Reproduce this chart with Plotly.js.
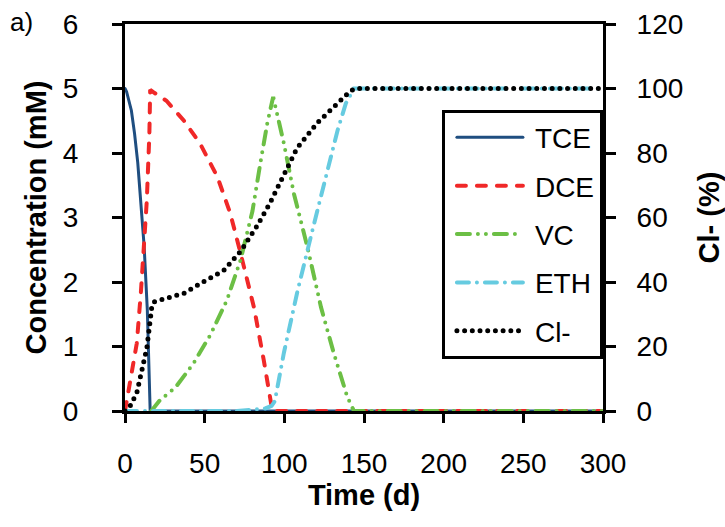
<!DOCTYPE html>
<html>
<head>
<meta charset="utf-8">
<script src="https://cdn.plot.ly/plotly-3.0.1.min.js"></script>
<style>
  html, body { margin: 0; padding: 0; background: #fff; }
  #chart { width: 725px; height: 527px; }
  .js-line { stroke-linecap: round !important; }
</style>
</head>
<body>
<div id="chart"></div>
<script>
// ---- data ----
const tceDays = [0, 1, 4, 6, 8, 10, 12, 14, 15.8, 300];
const tceConc = [5, 4.95, 4.66, 4.3, 3.85, 3.25, 2.56, 1.57, 0, 0];

const dceDays = [0, 1, 4, 7.4, 10, 11.6, 13.7, 15.3, 15.8, 18, 26, 37, 47, 58, 66, 72.5, 81, 87, 92.5, 300];
const dceConc = [0, 0.15, 0.55, 1.05, 1.85, 2.39, 3.27, 4.3, 4.98, 4.94, 4.81, 4.5, 4.15, 3.63, 3.07, 2.45, 1.6, 0.8, 0, 0];

const vcDays = [16.5, 22, 31.5, 43, 53.6, 64, 72.5, 80, 85, 89.3, 93, 99.7, 106, 114.5, 123, 131, 139.5, 143.7, 300];
const vcConc = [0, 0.17, 0.36, 0.74, 1.18, 1.72, 2.34, 3.1, 3.85, 4.46, 4.87, 4.15, 3.37, 2.54, 1.61, 0.9, 0.22, 0, 0];

const ethDays = [0, 70, 80, 88, 92, 94, 99.7, 108, 116.6, 125, 133.4, 138.6, 143.7, 300];
const ethConc = [0, 0, 0.02, 0.04, 0.08, 0.15, 0.9, 1.83, 2.7, 3.53, 4.35, 4.77, 5, 5];

const clDays = [0, 3, 7.4, 10.5, 13.7, 15.3, 16.8, 18, 27, 37, 49, 62, 72.5, 83, 91, 98, 108, 121, 131, 137, 141, 144, 300];
const clPct  = [0, 1.3, 5.6, 12.6, 19.5, 26, 32.3, 33.8, 35.2, 36.5, 40, 43.6, 49.5, 57.5, 64.5, 71.5, 81.5, 89.5, 94.5, 97.5, 99, 100, 100];

const seriesNames = ['TCE', 'DCE', 'VC', 'ETH', 'Cl-'];
const xTicks = [0, 50, 100, 150, 200, 250, 300];
const yTicks = [0, 1, 2, 3, 4, 5, 6];
const y2Ticks = [0, 20, 40, 60, 80, 100, 120];

// ---- styling ----
const FONT = '"Liberation Sans", Arial, sans-serif';
const tickFont = { family: FONT, size: 28, color: '#000' };
const titleFont = { family: FONT, size: 29, color: '#000', weight: 'bold' };

const traces = [
  { x: tceDays, y: tceConc, name: seriesNames[0], legendgroup: 'g1',
    line: { color: '#1f4e80', width: 3, dash: 'solid' } },
  { x: dceDays, y: dceConc, name: seriesNames[1], legendgroup: 'g2',
    line: { color: '#f02828', width: 4, dash: '9px,11px' } },
  { x: vcDays, y: vcConc, name: seriesNames[2], legendgroup: 'g3',
    line: { color: '#6cbf45', width: 4, dash: '13px,8px,0px,8px,0px,8px' } },
  { x: ethDays, y: ethConc, name: seriesNames[3], legendgroup: 'g4',
    line: { color: '#66cbe0', width: 4, dash: '12px,8px,0px,8px' } },
  { x: clDays, y: clPct, name: seriesNames[4], legendgroup: 'g5', yaxis: 'y2',
    line: { color: '#000000', width: 5, dash: '0px,7.7px' } }
].map(t => Object.assign({ type: 'scatter', mode: 'lines', hoverinfo: 'skip' }, t));

const layout = {
  width: 725, height: 527,
  margin: { l: 125, r: 122, t: 24, b: 116, pad: 0 },
  paper_bgcolor: '#fff', plot_bgcolor: '#fff',
  showlegend: true,
  xaxis: {
    range: [0, 300], tickvals: xTicks, ticktext: xTicks.map(String),
    showgrid: false, zeroline: false,
    showline: true, linecolor: '#000', linewidth: 3, mirror: true,
    ticks: 'outside', ticklen: 9, tickwidth: 3, tickcolor: '#000',
    tickfont: tickFont, ticklabelstandoff: 16,
    title: { text: 'Time (d)', font: titleFont, standoff: 6 }
  },
  yaxis: {
    range: [0, 6], tickvals: yTicks, ticktext: yTicks.map(String),
    showgrid: false, zeroline: false,
    showline: true, linecolor: '#000', linewidth: 3,
    ticks: 'outside', ticklen: 10, tickwidth: 3, tickcolor: '#000',
    tickfont: tickFont, ticklabelstandoff: 28,
    title: { text: 'Concentration (mM)', font: titleFont, standoff: 8 }
  },
  yaxis2: {
    overlaying: 'y', side: 'right',
    range: [0, 120], tickvals: y2Ticks, ticktext: y2Ticks.map(String),
    showgrid: false, zeroline: false,
    showline: true, linecolor: '#000', linewidth: 3,
    ticks: 'outside', ticklen: 10, tickwidth: 3, tickcolor: '#000',
    tickfont: tickFont, ticklabelstandoff: 15,
    title: { text: 'Cl- (%)', font: titleFont, standoff: 17 }
  },
  legend: {
    x: 0.663, y: 0.779, xanchor: 'left', yanchor: 'top',
    bgcolor: '#fff', bordercolor: '#000', borderwidth: 3,
    font: { family: FONT, size: 28, color: '#000' },
    itemwidth: 80, tracegroupgap: 9, traceorder: 'grouped'
  },
  annotations: [{
    xref: 'paper', yref: 'paper', x: -0.245, y: 1.05,
    xanchor: 'left', yanchor: 'top', showarrow: false,
    text: 'a)', font: { family: FONT, size: 26, color: '#000' }
  }]
};

Plotly.newPlot('chart', traces, layout, { staticPlot: true, displayModeBar: false }).then(function () {
  document.querySelectorAll('.legend .legendlines path').forEach(function (p) {
    p.setAttribute('d', 'M12,0h66');
  });
});
</script>
</body>
</html>
